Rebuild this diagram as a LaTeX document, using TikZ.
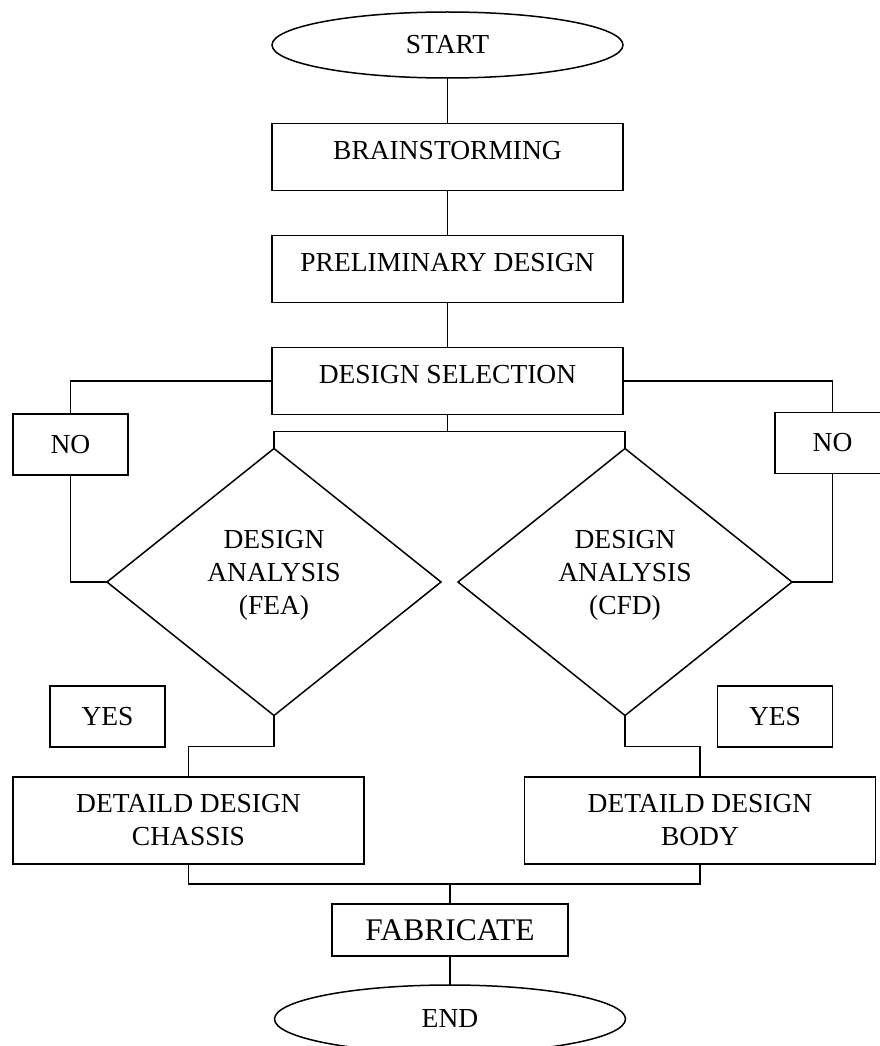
\documentclass[tikz,border=0pt]{standalone}
\usepackage{fontspec}
\setmainfont{Liberation Serif}
\usetikzlibrary{shapes.geometric,positioning}

\begin{document}
\begin{tikzpicture}[-,x=1pt,y=1pt,node distance=112pt,line width=1.5pt,
    terminal/.style={ellipse,draw,minimum width=351pt,minimum height=66pt,inner sep=0pt,outer sep=0pt,font=\fontsize{27.5}{33}\selectfont},
    process/.style={rectangle,draw,minimum width=351pt,minimum height=67pt,inner sep=0pt,outer sep=0pt,text depth=13pt,font=\fontsize{27.5}{33}\selectfont},
    decision/.style={diamond,draw,minimum width=334pt,minimum height=267pt,inner sep=0pt,outer sep=0pt,align=center,text depth=20pt,font=\fontsize{27.5}{33}\selectfont},
    answer/.style={rectangle,draw,minimum width=115pt,minimum height=61pt,inner sep=0pt,outer sep=0pt,font=\fontsize{27.5}{33}\selectfont},
    detail/.style={rectangle,draw,minimum width=351pt,minimum height=87pt,inner sep=0pt,outer sep=0pt,align=center,font=\fontsize{27.5}{33}\selectfont}]

            \useasboundingbox (0,0) rectangle (880,-1046);

            \node[terminal] (start) at (447.5,-45) {START};
            \node[process] (brain) [below of = start] {BRAINSTORMING};
            \node[process] (prelim) [below of = brain] {PRELIMINARY DESIGN};
            \node[process] (select) [below of = prelim] {DESIGN SELECTION};
            \node[answer] (noleft) at (70.5,-444.5) {NO};
            \node[answer] (noright) at (832.5,-443) {NO};
            \node[decision] (fea) at (274,-582) {DESIGN\\ANALYSIS\\(FEA)};
            \node[decision] (cfd) at (625,-582) {DESIGN\\ANALYSIS\\(CFD)};
            \node[answer] (yesleft) at (107.5,-716.5) {YES};
            \node[answer] (yesright) at (775,-716.5) {YES};
            \node[detail] (chassis) at (188.5,-820.5) {DETAILD DESIGN\\CHASSIS};
            \node[detail] (body) at (700,-820.5) {DETAILD DESIGN\\BODY};
            \node[process, minimum width=236pt, minimum height=52pt, text depth=0pt, font=\fontsize{31.5}{36}\selectfont] (fab) at (450,-930) {FABRICATE};
            \node[terminal, minimum height=68pt] (end) [below of = fab, node distance=89pt] {END};

            \draw[-] (start) to (brain);
            \draw[-] (brain) to (prelim);
            \draw[-] (prelim) to (select);

            \draw[-] (select.west) -| (noleft.north);
            \draw[-] (select.east) -| (noright.north);
            \draw[-] (noleft.south) |- (fea.west);
            \draw[-] (noright.south) |- (cfd.east);

            \draw[-] (select.south) -- ++(0,-17) coordinate (split);
            \draw[-] (fea.north) |- (split) -| (cfd.north);

            \draw[-] (fea.south) -- ++(0,-31) -| (chassis.north);
            \draw[-] (cfd.south) -- ++(0,-31) -| (body.north);

            \draw[-] (chassis.south) -- ++(0,-20) coordinate (merge) -| (body.south);
            \draw[-] (fab.north) -- (fab.north |- merge);
            \draw[-] (fab) to (end);

            ;
        \end{tikzpicture}
\end{document}
